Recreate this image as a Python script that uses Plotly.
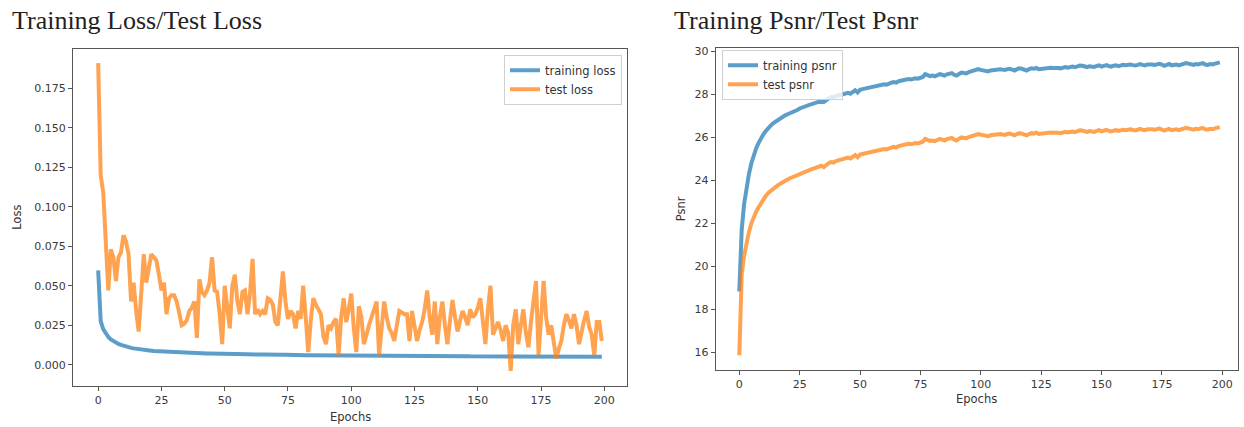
import plotly.graph_objects as go

W, H = 1244, 427

epochs = list(range(200))

train_loss = [
    0.0597, 0.0275, 0.0225, 0.0195, 0.0175, 0.0160, 0.0148, 0.0139, 0.0131, 0.0125,
    0.0119, 0.0114, 0.0110, 0.0106, 0.0103, 0.0100, 0.0097, 0.0095, 0.0093, 0.0091,
    0.0089, 0.0088, 0.0086, 0.0085, 0.0084, 0.0083, 0.0082, 0.0081, 0.0080, 0.0079,
    0.0078, 0.0078, 0.0077, 0.0076, 0.0076, 0.0075, 0.0075, 0.0074, 0.0074, 0.0073,
    0.0073, 0.0072, 0.0072, 0.0071, 0.0071, 0.0070, 0.0070, 0.0070, 0.0069, 0.0069,
    0.0068, 0.0068, 0.0068, 0.0067, 0.0067, 0.0067, 0.0066, 0.0066, 0.0066, 0.0065,
    0.0065, 0.0065, 0.0065, 0.0064, 0.0064, 0.0064, 0.0063, 0.0063, 0.0063, 0.0063,
    0.0062, 0.0062, 0.0062, 0.0062, 0.0062, 0.0061, 0.0061, 0.0061, 0.0061, 0.0061,
    0.0060, 0.0060, 0.0060, 0.0060, 0.0060, 0.0060, 0.0059, 0.0059, 0.0059, 0.0059,
    0.0059, 0.0059, 0.0059, 0.0058, 0.0058, 0.0058, 0.0058, 0.0058, 0.0058, 0.0058,
    0.0058, 0.0057, 0.0057, 0.0057, 0.0057, 0.0057, 0.0057, 0.0057, 0.0057, 0.0057,
    0.0057, 0.0056, 0.0056, 0.0056, 0.0056, 0.0056, 0.0056, 0.0056, 0.0056, 0.0056,
    0.0056, 0.0056, 0.0055, 0.0055, 0.0055, 0.0055, 0.0055, 0.0055, 0.0055, 0.0055,
    0.0055, 0.0055, 0.0055, 0.0055, 0.0054, 0.0054, 0.0054, 0.0054, 0.0054, 0.0054,
    0.0054, 0.0054, 0.0054, 0.0054, 0.0054, 0.0054, 0.0054, 0.0053, 0.0053, 0.0053,
    0.0053, 0.0053, 0.0053, 0.0053, 0.0053, 0.0053, 0.0053, 0.0053, 0.0053, 0.0053,
    0.0053, 0.0053, 0.0052, 0.0052, 0.0052, 0.0052, 0.0052, 0.0052, 0.0052, 0.0052,
    0.0052, 0.0052, 0.0052, 0.0052, 0.0052, 0.0052, 0.0052, 0.0052, 0.0051, 0.0051,
    0.0051, 0.0051, 0.0051, 0.0051, 0.0051, 0.0051, 0.0051, 0.0051, 0.0051, 0.0051,
    0.0051, 0.0051, 0.0051, 0.0051, 0.0051, 0.0050, 0.0050, 0.0050, 0.0050, 0.0050,
]

test_loss = [
    0.191, 0.120, 0.109, 0.072, 0.047, 0.073, 0.068, 0.053, 0.068, 0.071,
    0.082, 0.078, 0.070, 0.040, 0.052, 0.034, 0.021, 0.045, 0.070, 0.052,
    0.060, 0.070, 0.068, 0.066, 0.057, 0.047, 0.052, 0.032, 0.042, 0.044,
    0.044, 0.040, 0.033, 0.025, 0.026, 0.028, 0.034, 0.036, 0.040, 0.017,
    0.054, 0.046, 0.044, 0.047, 0.052, 0.068, 0.047, 0.046, 0.032, 0.013,
    0.050, 0.036, 0.023, 0.050, 0.057, 0.040, 0.032, 0.046, 0.047, 0.032,
    0.045, 0.067, 0.032, 0.035, 0.032, 0.034, 0.032, 0.042, 0.041, 0.038,
    0.027, 0.025, 0.040, 0.059, 0.040, 0.029, 0.034, 0.032, 0.023, 0.034,
    0.029, 0.050, 0.030, 0.008, 0.028, 0.042, 0.038, 0.035, 0.032, 0.018,
    0.013, 0.025, 0.023, 0.027, 0.029, 0.006, 0.030, 0.042, 0.027, 0.035,
    0.045, 0.023, 0.008, 0.037, 0.030, 0.013, 0.020, 0.025, 0.030, 0.035,
    0.040, 0.006, 0.025, 0.040, 0.030, 0.023, 0.020, 0.015, 0.025, 0.034,
    0.033, 0.032, 0.032, 0.015, 0.034, 0.025, 0.015, 0.022, 0.027, 0.035,
    0.047, 0.030, 0.019, 0.040, 0.013, 0.030, 0.040, 0.025, 0.013, 0.028,
    0.041, 0.030, 0.021, 0.028, 0.034, 0.030, 0.025, 0.035, 0.030, 0.032,
    0.036, 0.042, 0.025, 0.013, 0.035, 0.050, 0.019, 0.024, 0.027, 0.022,
    0.015, 0.025, 0.020, -0.004, 0.025, 0.035, 0.013, 0.025, 0.035, 0.020,
    0.011, 0.027, 0.040, 0.053, 0.006, 0.030, 0.053, 0.030, 0.019, 0.025,
    0.015, 0.004, 0.010, 0.015, 0.025, 0.032, 0.028, 0.023, 0.032, 0.025,
    0.013, 0.022, 0.028, 0.034, 0.024, 0.019, 0.006, 0.027, 0.027, 0.015,
]

train_psnr = [
    18.83, 21.70, 22.90, 23.70, 24.30, 24.80, 25.20, 25.50, 25.75, 25.98,
    26.15, 26.30, 26.45, 26.55, 26.66, 26.74, 26.83, 26.90, 26.98, 27.03,
    27.08, 27.12, 27.18, 27.20, 27.28, 27.35, 27.40, 27.42, 27.48, 27.52,
    27.55, 27.58, 27.62, 27.66, 27.70, 27.65, 27.75, 27.82, 27.88, 27.86,
    27.92, 27.95, 27.98, 28.00, 28.05, 28.08, 28.04, 28.12, 28.20, 28.10,
    28.22, 28.25, 28.28, 28.30, 28.33, 28.36, 28.38, 28.40, 28.42, 28.45,
    28.48, 28.46, 28.52, 28.55, 28.58, 28.55, 28.62, 28.65, 28.66, 28.70,
    28.72, 28.70, 28.74, 28.76, 28.74, 28.78, 28.82, 28.95, 28.90, 28.86,
    28.88, 28.85, 28.90, 28.95, 28.92, 28.88, 28.94, 28.98, 29.00, 28.92,
    28.88, 28.96, 29.02, 29.00, 28.98, 29.04, 29.08, 29.12, 29.15, 29.18,
    29.15, 29.12, 29.10, 29.08, 29.12, 29.14, 29.16, 29.15, 29.18, 29.16,
    29.14, 29.18, 29.20, 29.16, 29.12, 29.18, 29.22, 29.20, 29.16, 29.12,
    29.18, 29.22, 29.20, 29.24, 29.18, 29.20, 29.22, 29.24, 29.22, 29.25,
    29.24, 29.26, 29.24, 29.22, 29.26, 29.28, 29.25, 29.28, 29.30, 29.27,
    29.32, 29.35, 29.34, 29.30, 29.28, 29.32, 29.30, 29.28, 29.33, 29.36,
    29.30, 29.34, 29.37, 29.33, 29.30, 29.34, 29.36, 29.32, 29.35, 29.38,
    29.36, 29.38, 29.40, 29.37, 29.35, 29.38, 29.42, 29.38, 29.36, 29.40,
    29.42, 29.40, 29.38, 29.41, 29.43, 29.39, 29.34, 29.38, 29.42, 29.36,
    29.38, 29.40, 29.36, 29.40, 29.44, 29.47, 29.44, 29.40, 29.38, 29.42,
    29.40, 29.44, 29.46, 29.40, 29.38, 29.42, 29.40, 29.44, 29.47, 29.50,
]

test_psnr = [
    15.85, 19.60, 20.50, 21.10, 21.60, 22.00, 22.30, 22.55, 22.75, 22.95,
    23.12, 23.28, 23.42, 23.52, 23.60, 23.68, 23.78, 23.84, 23.92, 23.98,
    24.04, 24.10, 24.15, 24.18, 24.25, 24.32, 24.37, 24.40, 24.45, 24.50,
    24.52, 24.56, 24.60, 24.63, 24.68, 24.62, 24.72, 24.80, 24.85, 24.83,
    24.90, 24.93, 24.96, 24.98, 25.02, 25.06, 25.02, 25.10, 25.18, 25.08,
    25.20, 25.23, 25.26, 25.28, 25.31, 25.34, 25.36, 25.38, 25.40, 25.43,
    25.46, 25.44, 25.50, 25.53, 25.56, 25.53, 25.60, 25.63, 25.64, 25.68,
    25.70, 25.68, 25.72, 25.74, 25.72, 25.76, 25.80, 25.93, 25.88, 25.84,
    25.86, 25.83, 25.88, 25.93, 25.90, 25.86, 25.92, 25.96, 25.98, 25.90,
    25.86, 25.94, 26.00, 25.98, 25.96, 26.02, 26.06, 26.10, 26.13, 26.16,
    26.13, 26.10, 26.08, 26.06, 26.10, 26.12, 26.14, 26.13, 26.16, 26.14,
    26.12, 26.16, 26.18, 26.14, 26.10, 26.16, 26.20, 26.18, 26.14, 26.10,
    26.16, 26.20, 26.18, 26.22, 26.16, 26.18, 26.20, 26.22, 26.20, 26.23,
    26.22, 26.24, 26.22, 26.20, 26.24, 26.26, 26.23, 26.26, 26.28, 26.25,
    26.30, 26.33, 26.32, 26.28, 26.26, 26.30, 26.28, 26.26, 26.31, 26.34,
    26.28, 26.32, 26.35, 26.31, 26.28, 26.32, 26.34, 26.30, 26.33, 26.36,
    26.34, 26.36, 26.38, 26.35, 26.33, 26.36, 26.40, 26.36, 26.34, 26.38,
    26.40, 26.38, 26.36, 26.39, 26.41, 26.37, 26.32, 26.36, 26.40, 26.34,
    26.36, 26.38, 26.34, 26.38, 26.42, 26.45, 26.42, 26.38, 26.36, 26.40,
    26.38, 26.42, 26.44, 26.38, 26.36, 26.40, 26.38, 26.42, 26.45, 26.48,
]

x_ticks = [0, 25, 50, 75, 100, 125, 150, 175, 200]
loss_ticks = [0.0, 0.025, 0.05, 0.075, 0.1, 0.125, 0.15, 0.175]
loss_tick_text = ["0.000", "0.025", "0.050", "0.075", "0.100", "0.125", "0.150", "0.175"]
psnr_ticks = [16, 18, 20, 22, 24, 26, 28, 30]

BLUE = "rgba(31,119,180,0.72)"
ORANGE = "rgba(255,127,14,0.72)"
TICKFONT = dict(family="DejaVu Sans", size=11, color="#3a3a3a")
SPINE = "#555555"


def px_x(p):
    return p / W


def px_y(p):
    return 1 - p / H


fig = go.Figure()

fig.add_trace(go.Scatter(x=epochs, y=train_loss, mode="lines", name="training loss",
                         line=dict(color=BLUE, width=4), xaxis="x", yaxis="y", legend="legend"))
fig.add_trace(go.Scatter(x=epochs, y=test_loss, mode="lines", name="test loss",
                         line=dict(color=ORANGE, width=4), xaxis="x", yaxis="y", legend="legend"))
fig.add_trace(go.Scatter(x=epochs, y=train_psnr, mode="lines", name="training psnr",
                         line=dict(color=BLUE, width=4), xaxis="x2", yaxis="y2", legend="legend2"))
fig.add_trace(go.Scatter(x=epochs, y=test_psnr, mode="lines", name="test psnr",
                         line=dict(color=ORANGE, width=4), xaxis="x2", yaxis="y2", legend="legend2"))

axis_common = dict(showline=True, mirror=True, linecolor=SPINE, linewidth=1,
                   ticks="outside", ticklen=4, tickcolor=SPINE, tickwidth=1,
                   showgrid=False, zeroline=False, tickfont=TICKFONT)

L_left, L_right, L_top, L_bot = 73, 627, 46.7, 386
R_left, R_right, R_top, R_bot = 715.7, 1237.7, 45.7, 369.5

fig.update_layout(
    width=W, height=H,
    margin=dict(l=0, r=0, t=0, b=0),
    paper_bgcolor="white", plot_bgcolor="white",
    xaxis=dict(domain=[px_x(L_left), px_x(L_right)], range=[-9.95, 208.95],
               tickvals=x_ticks, anchor="y", **axis_common),
    yaxis=dict(domain=[px_y(L_bot), px_y(L_top)], range=[-0.0137, 0.1997],
               tickvals=loss_ticks, ticktext=loss_tick_text, anchor="x", **axis_common),
    xaxis2=dict(domain=[px_x(R_left), px_x(R_right)], range=[-9.77, 206.4],
                tickvals=x_ticks, anchor="y2", **axis_common),
    yaxis2=dict(domain=[px_y(R_bot), px_y(R_top)], range=[15.17, 30.15],
                tickvals=psnr_ticks, anchor="x2", **axis_common),
    legend=dict(x=px_x(622), y=px_y(52), xanchor="right", yanchor="top",
                bgcolor="rgba(255,255,255,0.8)", bordercolor="#d0d0d0", borderwidth=1,
                font=dict(family="DejaVu Sans", size=11.5, color="#333"),
                itemwidth=30, tracegroupgap=0),
    legend2=dict(x=px_x(722), y=px_y(47), xanchor="left", yanchor="top",
                 bgcolor="rgba(255,255,255,0.8)", bordercolor="#d0d0d0", borderwidth=1,
                 font=dict(family="DejaVu Sans", size=11.5, color="#333"),
                 itemwidth=30, tracegroupgap=0),
    showlegend=True,
)

label_font = dict(family="DejaVu Sans", size=11.5, color="#333")
title_font = dict(family="Liberation Serif", size=26, color="#222")
annotations = [
    dict(text="Training Loss/Test Loss", x=px_x(10), y=px_y(18), xanchor="left", yanchor="middle",
         xref="paper", yref="paper", showarrow=False, font=title_font),
    dict(text="Training Psnr/Test Psnr", x=px_x(672), y=px_y(18), xanchor="left", yanchor="middle",
         xref="paper", yref="paper", showarrow=False, font=title_font),
    dict(text="Epochs", x=px_x((L_left + L_right) / 2), y=px_y(417), xanchor="center", yanchor="middle",
         xref="paper", yref="paper", showarrow=False, font=label_font),
    dict(text="Epochs", x=px_x((R_left + R_right) / 2), y=px_y(399), xanchor="center", yanchor="middle",
         xref="paper", yref="paper", showarrow=False, font=label_font),
    dict(text="Loss", x=px_x(17), y=px_y((L_top + L_bot) / 2), xanchor="center", yanchor="middle",
         xref="paper", yref="paper", showarrow=False, textangle=-90, font=label_font),
    dict(text="Psnr", x=px_x(681), y=px_y((R_top + R_bot) / 2), xanchor="center", yanchor="middle",
         xref="paper", yref="paper", showarrow=False, textangle=-90, font=label_font),
]
fig.update_layout(annotations=annotations)

fig.write_html("out.html", config={"displayModeBar": False},
               post_script="document.body.style.margin='0';document.body.style.overflow='hidden';")
